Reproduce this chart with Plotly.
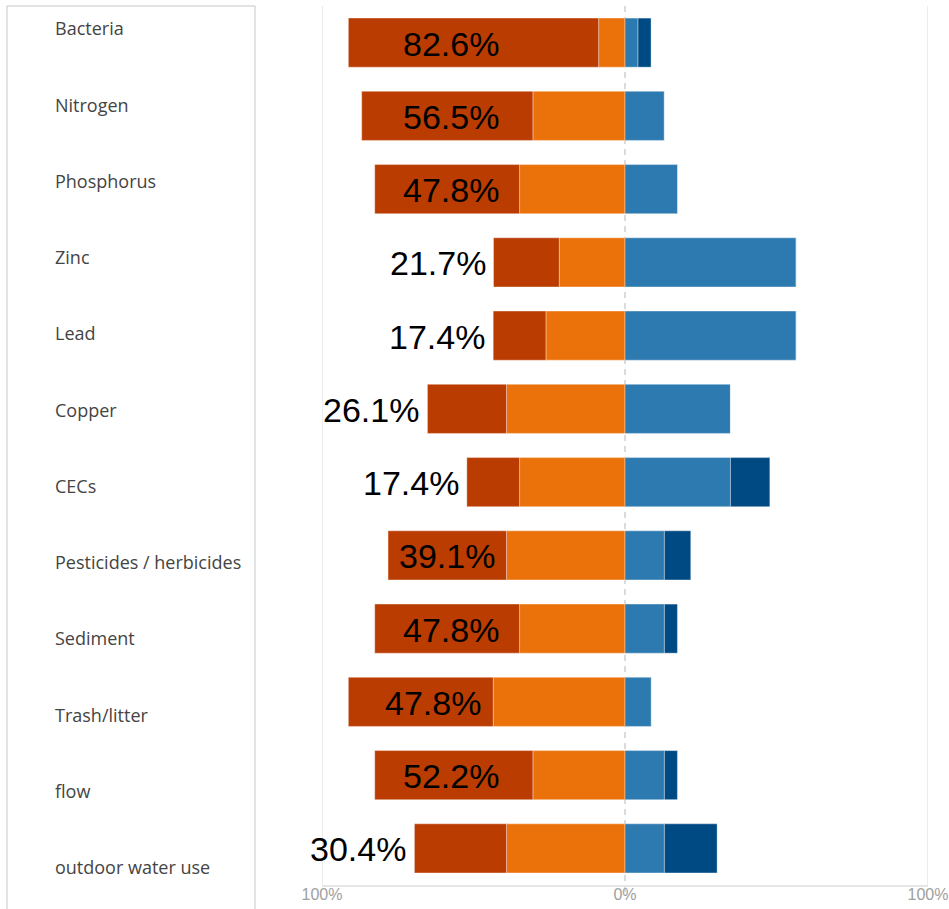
import plotly.graph_objects as go

# Survey responses per pollutant, as percent of respondents
categories = ["Bacteria", "Nitrogen", "Phosphorus", "Zinc", "Lead", "Copper", "CECs",
              "Pesticides / herbicides", "Sediment", "Trash/litter", "flow",
              "outdoor water use"]
strong_neg = [82.6, 56.5, 47.8, 21.7, 17.4, 26.1, 17.4, 39.1, 47.8, 47.8, 52.2, 30.4]
mild_neg = [8.7, 30.4, 34.8, 21.7, 26.1, 39.1, 34.8, 39.1, 34.8, 43.5, 30.4, 39.1]
mild_pos = [4.3, 13.0, 17.4, 56.5, 56.5, 34.8, 34.8, 13.0, 13.0, 8.7, 13.0, 13.0]
strong_pos = [4.3, 0.0, 0.0, 0.0, 0.0, 0.0, 13.0, 8.7, 4.3, 0.0, 4.3, 17.4]

axis_ticks = [-100, 0, 100]
axis_tick_text = ["100%", "0%", "100%"]

W, H = 949, 909
C_DARKRED = "#BB3C00"
C_ORANGE = "#EB720A"
C_BLUE = "#2D7AB1"
C_DARKBLUE = "#004A84"

fig = go.Figure()

def add_bar(vals, color, sign):
    fig.add_trace(go.Bar(
        y=categories, x=[sign * v for v in vals], orientation="h",
        marker=dict(color=color, line=dict(color="rgba(255,255,255,0.35)", width=1)),
        width=0.67, hoverinfo="skip", showlegend=False,
    ))

# negative side stacks outward from zero: orange first, then dark red
add_bar(mild_neg, C_ORANGE, -1)
add_bar(strong_neg, C_DARKRED, -1)
add_bar(mild_pos, C_BLUE, 1)
add_bar(strong_pos, C_DARKBLUE, 1)

# invisible trace that carries the category labels in the left panel
fig.add_trace(go.Scatter(
    x=[0] * len(categories), y=categories, xaxis="x2", yaxis="y2",
    mode="markers", marker=dict(opacity=0), hoverinfo="skip", showlegend=False,
))

# percentage labels for the strongest negative segment
px_per_pct = (928 - 322) / 200.0
for cat, s, m in zip(categories, strong_neg, mild_neg):
    text = f"{s:.1f}%"
    if s * px_per_pct > 105:
        x = min(-41.0, -m - 10 / px_per_pct)
        xshift = 0
    else:
        x = -(s + m)
        xshift = -6
    fig.add_annotation(
        x=x, y=cat, xref="x", yref="y", text=text, showarrow=False,
        xanchor="right", yanchor="middle", xshift=xshift, yshift=-1,
        font=dict(family="Liberation Sans, Arial, sans-serif", size=34, color="#000000"),
    )

shapes = []
# outer gridlines
for gx in (-100, 100):
    shapes.append(dict(type="line", xref="x", yref="y domain", x0=gx, x1=gx, y0=0, y1=1,
                       line=dict(color="#E6E6E6", width=1.5), layer="below"))
# dashed zero reference
shapes.append(dict(type="line", xref="x", yref="y domain", x0=0, x1=0, y0=-0.008, y1=1,
                   line=dict(color="#C4C4C4", width=1.2, dash="6px,5px"), layer="below"))
# left label panel frame
shapes.append(dict(type="path", xref="paper", yref="paper",
                   path=f"M {7/W},-0.05 L {7/W},{1-6/H} L {255/W},{1-6/H} L {255/W},-0.05",
                   line=dict(color="#C3C8CC", width=1)))

# category label axis: first label at 29px, last at 868px from the top
step = (868 - 29) / 11.0
top_val = -29 / step
bottom_val = 11 + (H - 868) / step

fig.update_layout(
    width=W, height=H,
    margin=dict(l=0, r=0, t=0, b=0, autoexpand=False),
    paper_bgcolor="white", plot_bgcolor="rgba(0,0,0,0)",
    barmode="relative", bargap=0.33,
    showlegend=False,
    shapes=shapes,
    xaxis=dict(
        domain=[322 / W, 928 / W], range=[-100, 100], automargin=False,
        tickvals=axis_ticks, ticktext=axis_tick_text,
        showgrid=False, zeroline=False,
        showline=True, linecolor="#E6E6E6", linewidth=1.5,
        ticks="", ticklabelstandoff=-6,
        tickfont=dict(family="Liberation Sans, Arial, sans-serif", size=16, color="#A0A0A0"),
        fixedrange=True,
    ),
    yaxis=dict(
        domain=[(H - 885) / H, (H - 6) / H], automargin=False,
        categoryorder="array", categoryarray=categories,
        range=[len(categories) - 0.5, -0.5],
        showticklabels=False, showgrid=False, zeroline=False, ticks="",
        fixedrange=True,
    ),
    xaxis2=dict(domain=[52 / W, 255 / W], visible=False, range=[0, 1],
                automargin=False, fixedrange=True),
    yaxis2=dict(
        anchor="x2", domain=[0, 1], automargin=False,
        categoryorder="array", categoryarray=categories,
        range=[bottom_val, top_val],
        ticklabelposition="inside", ticks="",
        showgrid=False, zeroline=False, showline=False,
        tickfont=dict(family="Open Sans, Noto Sans, sans-serif", size=18, color="#444444"),
        fixedrange=True,
    ),
)

fig.write_html("out.html")
